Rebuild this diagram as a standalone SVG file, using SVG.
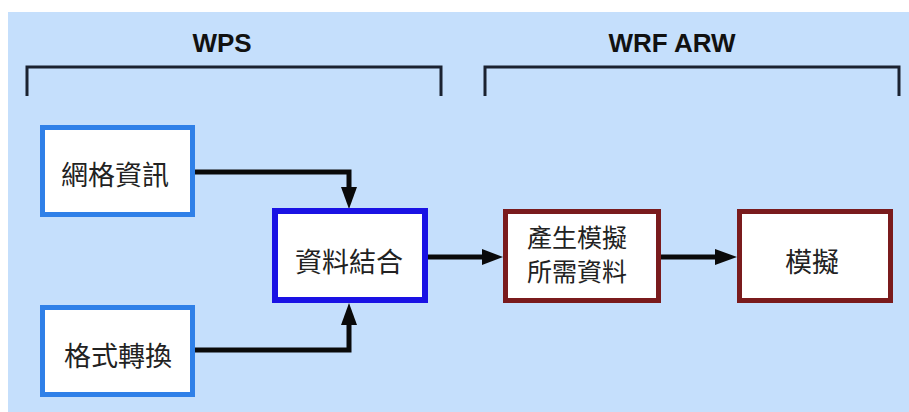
<svg xmlns="http://www.w3.org/2000/svg" width="909" height="412" viewBox="0 0 909 412">
<style>
.hdr{font-family:"Liberation Sans",Arial,sans-serif;font-weight:bold;font-size:26px;fill:#111;text-anchor:middle}
.lbl{font-family:"Noto Sans CJK TC","Noto Sans CJK SC",sans-serif;fill:#222;text-anchor:middle}
.blue{fill:#fff;stroke:#2f80e8;stroke-width:5}
.dblue{fill:#fff;stroke:#1a12e4;stroke-width:6}
.red{fill:#fff;stroke:#7a1b1d;stroke-width:5}
.br{fill:none;stroke:#1b2230;stroke-width:3}
.con{fill:none;stroke:#0a0a0a;stroke-width:5}
.head{fill:#0a0a0a}
</style>
<rect x="0" y="0" width="909" height="412" fill="#ffffff"/>
<rect x="8" y="12" width="901" height="400" fill="#c5dffc"/>
<g id="hdr-wps">
<text class="hdr" x="222" y="52">WPS</text>
<path class="br" d="M27 96 V67 H441 V96"/>
</g>
<g id="hdr-wrf">
<text class="hdr" x="672" y="52">WRF ARW</text>
<path class="br" d="M485 96 V67 H899 V96"/>
</g>
<g id="connectors">
<path class="con" d="M195 172 H349 V190"/>
<polygon class="head" points="341,187 357,187 349,209"/>
<path class="con" d="M195 350 H349 V322"/>
<polygon class="head" points="341,325 357,325 349,303"/>
<path class="con" d="M428 257 H485"/>
<polygon class="head" points="482,249 482,265 503,257"/>
<path class="con" d="M661 257 H718"/>
<polygon class="head" points="715,249 715,265 737,257"/>
</g>
<g id="n-grid">
<rect class="blue" x="42.5" y="127.5" width="150" height="87"/>
<text class="lbl" x="115" y="185" font-size="27">網格資訊</text>
</g>
<g id="n-format">
<rect class="blue" x="42.5" y="307.5" width="150" height="87"/>
<text class="lbl" x="118" y="366" font-size="27">格式轉換</text>
</g>
<g id="n-combine">
<rect class="dblue" x="275" y="211" width="150" height="89"/>
<text class="lbl" x="349" y="272" font-size="27">資料結合</text>
</g>
<g id="n-prep">
<rect class="red" x="505.5" y="211.5" width="153" height="89"/>
<text class="lbl" x="577" y="247" font-size="25">產生模擬</text>
<text class="lbl" x="577" y="281" font-size="25">所需資料</text>
</g>
<g id="n-sim">
<rect class="red" x="739.5" y="211.5" width="151" height="89"/>
<text class="lbl" x="812" y="272" font-size="27">模擬</text>
</g>
</svg>
